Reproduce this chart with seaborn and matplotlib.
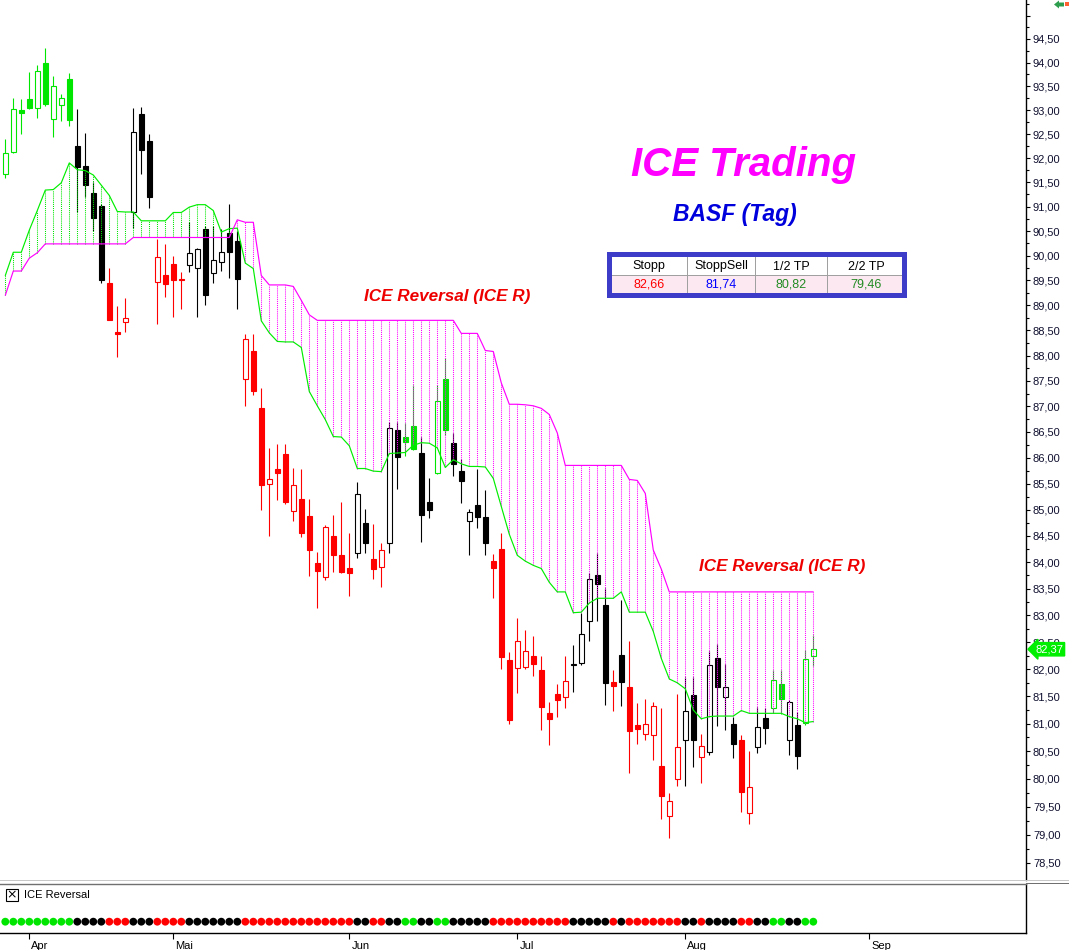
import numpy as np
import pandas as pd
import matplotlib
matplotlib.use("Agg")
import matplotlib.pyplot as plt
import seaborn as sns
from matplotlib.ticker import FixedLocator, FuncFormatter, NullFormatter, NullLocator
import matplotlib.transforms as mtransforms
from matplotlib.patches import Rectangle, Polygon

# ---------------- data ----------------
opens = [91.68, 92.12, 93.00, 93.24, 93.05, 93.99, 92.81, 93.10, 93.65, 92.25,
         91.83, 91.27, 91.02, 89.44, 88.46, 88.67, 90.88, 92.92, 92.35, 89.47,
         89.60, 89.83, 89.52, 89.82, 89.75, 90.54, 89.66, 89.88, 90.46, 90.30,
         87.53, 88.09, 86.96, 85.49, 85.79, 86.07, 84.97, 85.21, 84.88, 83.98,
         83.72, 84.50, 84.13, 83.89, 84.17, 84.74, 84.06, 83.90, 84.36, 86.54,
         86.40, 86.62, 86.09, 85.14, 85.70, 87.53, 86.28, 85.75, 84.79, 85.09,
         84.86, 84.03, 84.25, 82.17, 82.02, 82.04, 82.24, 81.98, 81.19, 81.55,
         81.48, 82.08, 82.12, 82.89, 83.75, 83.20, 81.76, 82.26, 81.68, 80.98,
         80.82, 80.80, 80.23, 79.33, 80.00, 80.70, 81.52, 80.39, 80.48, 82.21,
         81.48, 81.00, 80.70, 79.39, 80.58, 81.10, 81.28, 81.72, 80.70, 80.98,
         81.01, 82.25]
highs = [92.39, 93.26, 93.24, 93.79, 93.94, 94.31, 93.71, 93.33, 93.77, 93.02,
         92.52, 91.50, 91.05, 89.75, 88.98, 89.14, 93.04, 93.07, 92.49, 90.33,
         90.23, 90.00, 89.67, 90.69, 90.15, 90.60, 90.61, 90.54, 91.06, 90.50,
         88.43, 88.43, 87.35, 86.19, 86.26, 86.26, 85.80, 85.79, 85.21, 84.20,
         84.71, 84.90, 85.15, 84.56, 85.53, 85.01, 84.72, 84.37, 86.70, 86.70,
         86.67, 87.41, 86.40, 85.61, 87.42, 87.96, 86.48, 85.98, 85.01, 85.79,
         85.38, 84.15, 84.55, 82.32, 82.96, 82.72, 82.62, 82.25, 81.39, 81.72,
         82.25, 82.44, 83.04, 83.80, 84.17, 83.52, 81.98, 83.29, 82.52, 81.37,
         81.46, 81.40, 81.28, 79.75, 81.55, 81.86, 81.85, 80.82, 82.34, 82.46,
         82.10, 81.13, 80.80, 80.51, 81.31, 81.28, 81.99, 81.99, 81.43, 81.22,
         82.35, 82.64]
lows = [91.58, 92.10, 92.49, 93.03, 92.83, 93.09, 92.43, 92.77, 92.67, 90.90,
        91.19, 90.51, 89.45, 88.70, 87.98, 88.47, 90.56, 91.67, 90.98, 88.62,
        89.17, 88.77, 88.93, 89.67, 88.76, 89.00, 89.45, 89.69, 89.55, 88.93,
        87.00, 87.23, 85.00, 84.50, 85.18, 85.10, 84.79, 84.48, 83.74, 83.13,
        83.67, 83.81, 83.80, 83.37, 84.08, 84.18, 83.68, 83.54, 84.17, 85.40,
        86.03, 86.15, 84.39, 84.84, 85.68, 86.44, 85.64, 85.12, 84.14, 84.65,
        84.14, 83.32, 82.00, 81.00, 81.56, 82.00, 81.88, 80.88, 80.61, 81.13,
        81.28, 81.58, 82.07, 82.53, 82.90, 81.35, 81.23, 81.33, 80.10, 80.63,
        80.71, 80.34, 79.29, 78.94, 79.88, 79.88, 80.22, 79.92, 80.43, 80.95,
        80.89, 80.37, 79.40, 79.20, 80.47, 80.64, 81.19, 81.18, 80.43, 80.18,
        80.98, 82.06]
closes = [92.10, 93.02, 92.93, 93.05, 93.83, 93.13, 93.51, 93.26, 92.79, 91.81,
          91.44, 90.77, 89.50, 88.71, 88.43, 88.75, 92.55, 92.16, 91.19, 89.97,
          89.42, 89.50, 89.50, 90.05, 90.13, 89.20, 89.92, 90.08, 90.08, 89.53,
          88.32, 87.31, 85.47, 85.59, 85.71, 85.14, 85.47, 84.56, 84.24, 83.84,
          84.67, 84.13, 83.82, 83.80, 85.29, 84.36, 83.88, 84.23, 86.57, 86.01,
          86.31, 86.17, 84.90, 84.99, 87.11, 86.53, 85.88, 85.54, 84.95, 84.85,
          84.36, 83.89, 82.22, 81.07, 82.53, 82.33, 82.09, 81.31, 81.09, 81.43,
          81.79, 82.10, 82.65, 83.69, 83.59, 81.75, 81.69, 81.77, 80.86, 80.91,
          80.99, 81.32, 79.70, 79.61, 80.57, 81.23, 80.70, 80.59, 82.08, 81.67,
          81.68, 80.63, 79.77, 79.85, 80.94, 80.92, 81.81, 81.45, 81.39, 80.42,
          82.19, 82.37]
# ICE Reversal state per bar (G = green, K = black, R = red)
signal = ("GGGGGGGGGKKKKRRRKKKRRRRKKKKKKKRRRRRRRRRRRRRRKKRRKKGGKKGGKKKKK"
          "RRRRRRRRRRKKKKKRKRRRRRRRKKRKKKKRRKKGGKKGG")
# ICE cloud: green line and magenta line
green_line = [89.60, 90.07, 90.07, 90.52, 90.92, 91.34, 91.35, 91.49, 91.90, 91.76,
              91.74, 91.65, 91.44, 91.23, 90.90, 90.89, 90.89, 90.71, 90.71, 90.71,
              90.71, 90.88, 90.88, 90.99, 91.04, 91.04, 90.92, 90.48, 90.55, 90.56,
              89.85, 89.74, 88.69, 88.45, 88.28, 88.27, 88.27, 88.16, 87.29, 87.01,
              86.74, 86.41, 86.40, 86.23, 85.79, 85.79, 85.74, 85.73, 86.08, 86.09,
              86.10, 86.24, 86.29, 86.28, 86.19, 85.81, 85.96, 85.88, 85.83, 85.83,
              85.82, 85.60, 85.06, 84.53, 84.13, 84.02, 83.94, 83.88, 83.62, 83.44,
              83.44, 83.05, 83.06, 83.23, 83.32, 83.32, 83.32, 83.44, 83.06, 83.06,
              83.06, 82.70, 82.20, 81.82, 81.75, 81.64, 81.25, 81.09, 81.13, 81.14,
              81.14, 81.14, 81.24, 81.19, 81.19, 81.19, 81.19, 81.19, 81.13, 81.09,
              81.02, 81.04]
magenta_line = [89.20, 89.69, 89.69, 89.95, 90.06, 90.24, 90.24, 90.24, 90.24, 90.24,
                90.24, 90.24, 90.24, 90.24, 90.24, 90.24, 90.37, 90.37, 90.37, 90.37,
                90.37, 90.37, 90.37, 90.37, 90.37, 90.37, 90.37, 90.37, 90.37, 90.73,
                90.68, 90.68, 89.60, 89.41, 89.41, 89.41, 89.38, 89.10, 88.81, 88.70,
                88.70, 88.70, 88.70, 88.70, 88.70, 88.70, 88.70, 88.70, 88.70, 88.70,
                88.70, 88.70, 88.70, 88.70, 88.70, 88.70, 88.70, 88.44, 88.44, 88.44,
                88.10, 88.08, 87.46, 87.04, 87.04, 87.03, 87.01, 86.96, 86.84, 86.48,
                85.85, 85.85, 85.85, 85.85, 85.85, 85.85, 85.85, 85.85, 85.58, 85.56,
                85.31, 84.23, 83.87, 83.44, 83.44, 83.44, 83.44, 83.44, 83.44, 83.44,
                83.44, 83.44, 83.44, 83.44, 83.44, 83.44, 83.44, 83.44, 83.44, 83.44,
                83.44, 83.44]
month_ticks = [3, 21, 43, 64, 85, 108]
month_labels = ["Apr", "Mai", "Jun", "Jul", "Aug", "Sep"]
price_ticks = [78.5, 79.0, 79.5, 80.0, 80.5, 81.0, 81.5, 82.0, 82.5, 83.0, 83.5, 84.0,
               84.5, 85.0, 85.5, 86.0, 86.5, 87.0, 87.5, 88.0, 88.5, 89.0, 89.5, 90.0,
               90.5, 91.0, 91.5, 92.0, 92.5, 93.0, 93.5, 94.0, 94.5, 95.0]
table_headers = ["Stopp", "StoppSell", "1/2 TP", "2/2 TP"]
table_values = ["82,66", "81,74", "80,82", "79,46"]
last_price = 82.37

# ---------------- style ----------------
sns.set_theme(style="white")
plt.rcParams["font.family"] = ["Liberation Sans", "DejaVu Sans"]

W, H = 1069, 950
GREEN = "#00e600"
RED = "#ff0000"
MAG = "#ff00ff"
BLACK = "#000000"
col_map = {"G": GREEN, "K": BLACK, "R": RED}

fig = plt.figure(figsize=(W / 100, H / 100), dpi=100)
fig.patch.set_facecolor("white")
PIX = mtransforms.IdentityTransform()


def px(x, y):
    return x, H - y


ax = fig.add_axes([0, 70 / H, 1026 / W, 880 / H])
axb = fig.add_axes([0, (H - 932.7) / H, 1026 / W, 48.7 / H])

n = len(opens)
x = np.arange(n)
o = np.array(opens); h = np.array(highs); l = np.array(lows); c = np.array(closes)
g = np.array(green_line); m = np.array(magenta_line)
colors = [col_map[s] for s in signal]

ax.set_yscale("log")
xlim = (-0.6625, 127.59)
ax.set_xlim(*xlim)
ax.set_ylim(78.20, 95.333)

# candles
ax.vlines(x, l, h, colors=colors, lw=0.8, zorder=2)
bottoms = np.minimum(o, c)
heights = np.maximum(np.abs(c - o), 0.015)
face = ["white" if cc > oo else col for cc, oo, col in zip(c, o, colors)]
ax.bar(x, heights, bottom=bottoms, width=0.6, color=face, edgecolor=colors,
       linewidth=0.8, zorder=2.5)

# cloud hatching (dotted vertical lines between the two lines)
upper = np.maximum(g, m)
lower = np.minimum(g, m)
hcol = [GREEN if gg > mm else MAG for gg, mm in zip(g, m)]
ax.vlines(x, lower, upper, colors=hcol, linestyles=[(0, (1, 1))], lw=0.75, zorder=3)

df = pd.DataFrame({"i": x, "green": g, "magenta": m})
sns.lineplot(data=df, x="i", y="green", ax=ax, color="#00ee00", lw=0.85, zorder=4)
sns.lineplot(data=df, x="i", y="magenta", ax=ax, color=MAG, lw=0.85, zorder=4)

# axes styling
for s in ["left", "top", "bottom"]:
    ax.spines[s].set_visible(False)
ax.spines["right"].set_color("black")
ax.spines["right"].set_linewidth(1.0)
ax.set_xlabel(""); ax.set_ylabel("")
ax.xaxis.set_major_locator(NullLocator())
ax.yaxis.tick_right()
ax.yaxis.set_major_locator(FixedLocator(price_ticks))
ax.yaxis.set_major_formatter(FuncFormatter(
    lambda v, p: "" if v > 94.9 else f"{v:.2f}".replace(".", ",")))
ax.yaxis.set_minor_locator(FixedLocator([t + 0.25 for t in price_ticks]))
ax.yaxis.set_minor_formatter(NullFormatter())
ax.tick_params(axis="y", which="major", direction="out", length=3, width=0.8,
               labelsize=8, pad=2, colors="black", labelcolor="#101030", right=True)
ax.tick_params(axis="y", which="minor", direction="out", length=2, width=0.8,
               colors="black", right=True, left=False)

# last price marker (drawn over the axis, as in the original)
ax.annotate(f"{last_price:.2f}".replace(".", ","), xy=(1.0, last_price),
            xycoords=("axes fraction", "data"), xytext=(23, 0),
            textcoords="offset pixels", ha="center", va="center", fontsize=8,
            color="white", zorder=10,
            bbox=dict(boxstyle="larrow,pad=0.15", fc="#00ee00", ec="#00ee00"),
            annotation_clip=False)

# texts
fig.text(*px(744, 165), "ICE Trading", transform=PIX, fontsize=29, fontweight="bold",
         fontstyle="italic", color=MAG, ha="center", va="center")
fig.text(*px(735, 215), "BASF (Tag)", transform=PIX, fontsize=16.5, fontweight="bold",
         fontstyle="italic", color="#0000dd", ha="center", va="center")
for (tx, ty) in [(447, 297), (782, 566)]:
    fig.text(*px(tx, ty), "ICE Reversal (ICE R)", transform=PIX, fontsize=12.3,
             fontweight="bold", fontstyle="italic", color="#ee0000",
             ha="center", va="center")

# table


def prect(x0, y0, x1, y1, **kw):
    r = Rectangle((x0, H - y1), x1 - x0, y1 - y0, transform=PIX, **kw)
    fig.patches.append(r)


prect(607, 251.5, 907, 297.5, facecolor="#3c3cc8", edgecolor="none")
prect(612, 257, 902, 293, facecolor="white", edgecolor="none")
prect(612, 276, 902, 293, facecolor="#fbe8f1", edgecolor="none")
prect(612, 275, 902, 276, facecolor="#a0a0a0", edgecolor="none")
for dx in [687.5, 755, 827.5]:
    prect(dx - 0.5, 257, dx + 0.5, 293, facecolor="#a0a0a0", edgecolor="none")
col_x = [649, 721.5, 791.5, 866.5]
val_cols = ["#ff0000", "#0000ff", "#228b22", "#228b22"]
for cx, hd, vv, vc in zip(col_x, table_headers, table_values, val_cols):
    fig.text(*px(cx, 266.5), hd, transform=PIX, fontsize=9, color="black",
             ha="center", va="center")
    fig.text(*px(cx, 284.5), vv, transform=PIX, fontsize=9, color=vc,
             ha="center", va="center")

# ---------------- bottom indicator panel ----------------
axb.set_xlim(*xlim)
axb.set_ylim(0, 1)
sig_df = pd.DataFrame({"i": x, "y": np.full(n, 0.226), "sig": list(signal)})
sns.scatterplot(data=sig_df, x="i", y="y", hue="sig", palette=col_map, s=32,
                edgecolor="none", legend=False, ax=axb, zorder=3)
axb.set_xlabel(""); axb.set_ylabel("")
axb.set_yticks([])
axb.set_xticks(month_ticks)
axb.set_xticklabels(month_labels)
axb.tick_params(axis="x", direction="out", length=4, width=0.8, labelsize=8,
                pad=2, colors="black", bottom=True)
offset = mtransforms.ScaledTranslation(2 / 100, 0, fig.dpi_scale_trans)
for lab in axb.get_xticklabels():
    lab.set_horizontalalignment("left")
    lab.set_transform(lab.get_transform() + offset)
axb.spines["left"].set_visible(False)
axb.spines["top"].set_color("#707070")
axb.spines["bottom"].set_color("black")
axb.spines["right"].set_color("black")
for s in ["top", "bottom", "right"]:
    axb.spines[s].set_linewidth(1.0)

# separator between panels
prect(0, 880, W, 881, facecolor="#c8c8c8", edgecolor="none")
prect(1026, 883, W, 884, facecolor="#707070", edgecolor="none")

# indicator label with checkbox
prect(5.5, 888.5, 17.5, 900.5, facecolor="white", edgecolor="black", linewidth=0.8)
fig.text(*px(11.5, 894.5), "×", transform=PIX, fontsize=9, color="black",
         ha="center", va="center", family="DejaVu Sans")
fig.text(*px(24, 894.5), "ICE Reversal", transform=PIX, fontsize=8, color="black",
         ha="left", va="center")

# small arrow icon at top right
fig.patches.append(Polygon([px(1054, 4.5), px(1059, 0.5), px(1059, 2.5), px(1064, 2.5),
                            px(1064, 6.5), px(1059, 6.5), px(1059, 8.5)],
                           closed=True, transform=PIX, facecolor="#2e9e4e",
                           edgecolor="none"))
prect(1065, 2, 1069, 6, facecolor="#ff6030", edgecolor="none")

fig.savefig("out.png", dpi=100)
